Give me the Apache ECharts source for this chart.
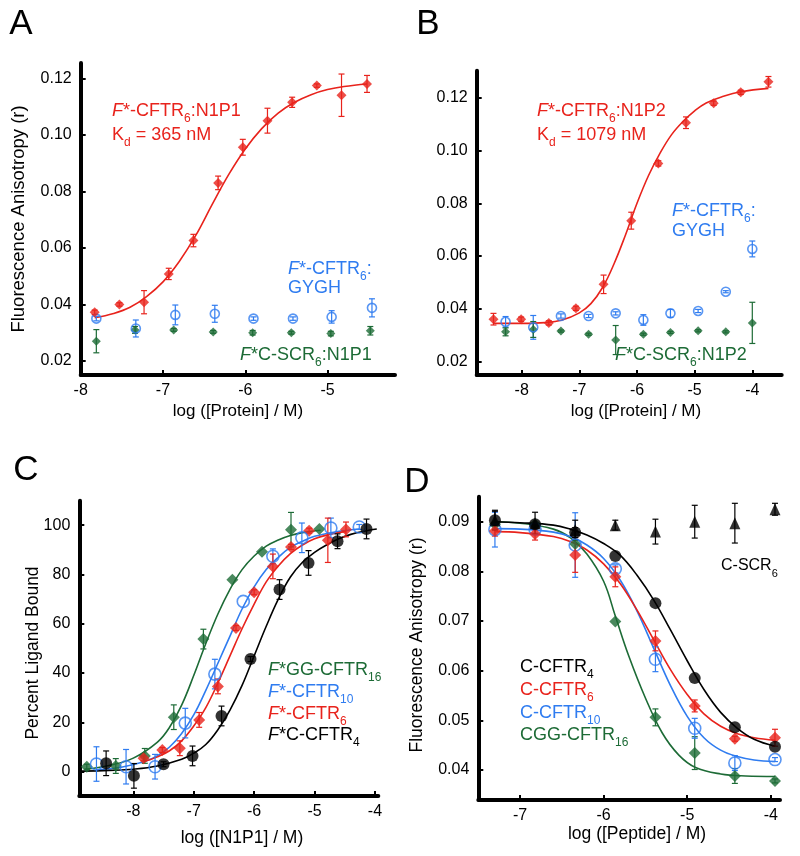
<!DOCTYPE html>
<html><head><meta charset="utf-8">
<script src="https://cdn.jsdelivr.net/npm/echarts@6/dist/echarts.min.js"></script>
<style>html,body{margin:0;padding:0;background:#fff}#c{width:800px;height:856px}</style>
</head><body><div id="c"></div>
<script>
// ---------- Panel A ----------
const aRedX = [-7.83,-7.53,-7.23,-6.93,-6.63,-6.33,-6.03,-5.73,-5.43,-5.13,-4.83,-4.52];
const aRedY = [0.0372,0.0400,0.0408,0.0508,0.0626,0.0830,0.0956,0.1050,0.1115,0.1174,0.1140,0.1180];
const aRedErr = [0.0008,0.0006,0.0041,0.0020,0.0022,0.0024,0.0028,0.0044,0.0018,0.0006,0.0075,0.0030];
const aBlueX = [-7.81,-7.33,-6.85,-6.37,-5.90,-5.42,-4.95,-4.46];
const aBlueY = [0.0350,0.0315,0.0363,0.0367,0.0350,0.0350,0.0356,0.0388];
const aBlueErr = [0.0008,0.0030,0.0035,0.0030,0.0006,0.0006,0.0022,0.0032];
const aGreenX = [-7.81,-7.34,-6.87,-6.39,-5.91,-5.44,-4.96,-4.48];
const aGreenY = [0.0270,0.0310,0.0310,0.0303,0.0300,0.0300,0.0297,0.0307];
const aGreenErr = [0.0041,0.0012,0.0005,0.0005,0.0008,0.0005,0.0008,0.0015];
const aFitX = [-7.83,-7.6,-7.4,-7.2,-7.0,-6.8,-6.6,-6.4,-6.2,-6.0,-5.8,-5.6,-5.4,-5.2,-5.0,-4.8,-4.52];
const aFitY = [0.0353,0.0368,0.0390,0.0428,0.0480,0.0553,0.0645,0.0755,0.0860,0.0950,0.1022,0.1077,0.1115,0.1142,0.1160,0.1171,0.1180];
const aXTicks = [-8,-7,-6,-5];
const aYTicks = [0.02,0.04,0.06,0.08,0.10,0.12];

// ---------- Panel B ----------
const bRedX = [-8.49,-8.01,-7.53,-7.06,-6.58,-6.10,-5.63,-5.15,-4.67,-4.20,-3.72];
const bRedY = [0.0361,0.0361,0.0347,0.0402,0.0493,0.0734,0.0951,0.1105,0.1179,0.1220,0.1260];
const bRedErr = [0.0022,0.0008,0.0008,0.0008,0.0035,0.0032,0.0010,0.0022,0.0008,0.0008,0.0020];
const bBlueX = [-8.28,-7.80,-7.32,-6.84,-6.37,-5.89,-5.42,-4.94,-4.46,-4.00];
const bBlueY = [0.0351,0.0330,0.0373,0.0373,0.0383,0.0358,0.0383,0.0392,0.0465,0.0627];
const bBlueErr = [0.0020,0.0045,0.0008,0.0006,0.0006,0.0020,0.0015,0.0006,0.0004,0.0030];
const bGreenX = [-8.28,-7.80,-7.32,-6.84,-6.37,-5.89,-5.42,-4.94,-4.46,-4.00];
const bGreenY = [0.0313,0.0322,0.0316,0.0304,0.0282,0.0304,0.0311,0.0317,0.0313,0.0347];
const bGreenErr = [0.0015,0.0030,0.0004,0.0004,0.0055,0.0004,0.0004,0.0004,0.0004,0.0078];
const bFitX = [-8.48,-8.0,-7.6,-7.3,-7.0,-6.8,-6.6,-6.4,-6.2,-6.0,-5.8,-5.6,-5.4,-5.2,-5.0,-4.8,-4.5,-4.2,-3.72];
const bFitY = [0.0345,0.0345,0.0348,0.0358,0.0385,0.0420,0.0480,0.0570,0.0680,0.0800,0.0905,0.0990,0.1060,0.1110,0.1150,0.1180,0.1205,0.1222,0.1235];
const bXTicks = [-8,-7,-6,-5,-4];
const bYTicks = [0.02,0.04,0.06,0.08,0.10,0.12];

// ---------- Panel C ----------
const cGreenX = [-8.77,-8.29,-7.81,-7.33,-6.84,-6.36,-5.87,-5.39,-4.92];
const cGreenY = [2.0,2.3,6.4,22.1,53.8,77.9,89.2,98.2,98.5];
const cGreenErr = [1,3,3,5,4,0,0,7,0];
const cBlueX = [-8.61,-8.12,-7.64,-7.14,-6.65,-6.18,-5.69,-5.21,-4.73,-4.26];
const cBlueY = [3.1,2.0,2.0,19.7,39.6,69.1,87.4,94.9,98.9,99.3];
const cBlueErr = [7,7,5,6,6,0,3,6,4,1];
const cRedX = [-7.83,-7.52,-7.23,-6.91,-6.60,-6.30,-6.00,-5.69,-5.39,-5.09,-4.78,-4.48];
const cRedY = [5.4,8.8,9.5,21.0,34.6,58.3,72.8,83.3,91.2,97.8,93.9,98.3];
const cRedErr = [1,1,3,3,3,1,1,5,1,1,9,3];
const cBlackX = [-8.45,-7.99,-7.50,-7.02,-6.54,-6.06,-5.58,-5.10,-4.62,-4.14];
const cBlackY = [3.4,-1.7,3.0,6.4,22.6,45.7,73.9,84.7,93.5,98.5];
const cBlackErr = [5,5,1,4,4,1,4,5,3,4];
const cGreenFitX = [-8.8,-8.4,-8.0,-7.6,-7.4,-7.2,-7.0,-6.8,-6.6,-6.4,-6.2,-6.0,-5.8,-5.6,-5.4,-5.2,-4.9];
const cGreenFitY = [1.0,2.5,5.5,12,18,27,39,52,64,74,82,87.5,91.5,94,95.8,97,98];
const cBlueFitX = [-8.6,-8.2,-7.8,-7.6,-7.4,-7.2,-7.0,-6.8,-6.6,-6.4,-6.2,-6.0,-5.8,-5.6,-5.4,-5.2,-5.0,-4.6,-4.26];
const cBlueFitY = [0.8,1.8,4.2,6.5,10,15.5,23,33,44,55,66,75,82,87,91,93.5,95.5,97.5,98.5];
const cRedFitX = [-7.83,-7.6,-7.4,-7.2,-7.0,-6.8,-6.6,-6.4,-6.2,-6.0,-5.8,-5.6,-5.4,-5.2,-5.0,-4.8,-4.48];
const cRedFitY = [4.0,6.0,8.5,12.5,18.5,26,36,47,58,68,77,83.5,88.5,92,94.5,96,97.5];
const cBlackFitX = [-8.85,-8.4,-8.0,-7.6,-7.2,-7.0,-6.8,-6.6,-6.4,-6.2,-6.0,-5.8,-5.6,-5.4,-5.2,-5.0,-4.8,-4.6,-4.4,-4.14,-3.97];
const cBlackFitY = [0.2,0.5,1.0,2.3,5.0,7.5,11,17,25,35,47,59,70,79,85,89,92,94.5,96.3,97.8,98.5];
const cXTicks = [-8,-7,-6,-5,-4];
const cYTicks = [0,20,40,60,80,100];

// ---------- Panel D ----------
const dX = [-7.30,-6.82,-6.34,-5.86,-5.38,-4.91,-4.43,-3.95];
const dTriY = [0.0903,0.0897,0.0883,0.0893,0.0880,0.0900,0.0897,0.0925];
const dTriErr = [0.0018,0.0022,0.0020,0.0010,0.0025,0.0033,0.0040,0.0012];
const dBlackY = [0.0903,0.0895,0.0878,0.0831,0.0736,0.0585,0.0486,0.0447];
const dBlackErr = [0.0020,0,0.0010,0,0,0,0,0];
const dRedY = [0.0881,0.0875,0.0833,0.0789,0.0660,0.0529,0.0463,0.0465];
const dRedErr = [0.0010,0.0012,0.0035,0.0020,0.0020,0.0012,0.0005,0.0017];
const dBlueY = [0.0884,0.0885,0.0853,0.0805,0.0623,0.0484,0.0414,0.0421];
const dBlueErr = [0.0035,0.0008,0.0065,0.0008,0.0025,0.0020,0.0015,0.0004];
const dGreenY = [0.0895,0.0895,0.0855,0.0699,0.0506,0.0434,0.0388,0.0378];
const dGreenErr = [0,0,0,0,0.0017,0.0033,0.0015,0.0004];
const dBlackFitX = [-7.3,-7.0,-6.6,-6.4,-6.2,-6.0,-5.8,-5.6,-5.4,-5.2,-5.0,-4.8,-4.6,-4.4,-4.2,-3.95];
const dBlackFitY = [0.0900,0.0898,0.0893,0.0885,0.0873,0.0856,0.0832,0.0792,0.0742,0.0682,0.0620,0.0562,0.0516,0.0484,0.0462,0.0448];
const dRedFitX = [-7.3,-7.0,-6.6,-6.4,-6.2,-6.0,-5.8,-5.6,-5.4,-5.2,-5.0,-4.8,-4.6,-4.4,-4.2,-3.95];
const dRedFitY = [0.0880,0.0878,0.0870,0.0860,0.0843,0.0815,0.0775,0.0722,0.0662,0.0602,0.0552,0.0513,0.0488,0.0473,0.0465,0.0460];
const dBlueFitX = [-7.3,-7.0,-6.6,-6.4,-6.2,-6.0,-5.8,-5.6,-5.4,-5.2,-5.0,-4.8,-4.6,-4.4,-4.2,-3.95];
const dBlueFitY = [0.0886,0.0885,0.0879,0.0870,0.0853,0.0826,0.0782,0.0720,0.0645,0.0570,0.0508,0.0465,0.0440,0.0427,0.0420,0.0417];
const dGreenFitX = [-7.3,-7.0,-6.6,-6.4,-6.2,-6.0,-5.86,-5.7,-5.5,-5.3,-5.1,-4.9,-4.6,-4.3,-3.95];
const dGreenFitY = [0.0900,0.0897,0.0885,0.0868,0.0835,0.0780,0.0710,0.0630,0.0545,0.0475,0.0430,0.0405,0.0392,0.0388,0.0387];
const dXTicks = [-7,-6,-5,-4];
const dYTicks = [0.04,0.05,0.06,0.07,0.08,0.09];

// ---------- styling ----------
const RED = '#e8231c', BLUE = '#2f7cf0', GREEN = '#1d6b36', BLACK = '#000000';
const FONT = "'Liberation Sans', Arial, sans-serif";

const zip = (xs, ys) => xs.map((x, i) => [x, ys[i]]);
const errs = (xs, ys, es) => xs.map((x, i) => [x, ys[i] - es[i], ys[i] + es[i], es[i]]);

function errRender(params, api) {
  if (api.value(3) <= 0) return null;
  const x = api.value(0);
  const p1 = api.coord([x, api.value(1)]);
  const p2 = api.coord([x, api.value(2)]);
  const w = 3;
  const style = { stroke: api.visual('color'), lineWidth: 1.2 };
  return { type: 'group', children: [
    { type: 'line', shape: { x1: p1[0], y1: p1[1], x2: p2[0], y2: p2[1] }, style },
    { type: 'line', shape: { x1: p1[0] - w, y1: p1[1], x2: p1[0] + w, y2: p1[1] }, style },
    { type: 'line', shape: { x1: p2[0] - w, y1: p2[1], x2: p2[0] + w, y2: p2[1] }, style }
  ]};
}

function xAxisDef(gi, min, max, ticks) {
  return {
    type: 'value', gridIndex: gi, min, max,
    axisLine: { show: true, onZero: false, lineStyle: { color: BLACK, width: 4 } },
    axisTick: { show: true, inside: true, length: 5, lineStyle: { width: 2, color: BLACK }, customValues: ticks },
    axisLabel: { show: true, customValues: ticks, color: BLACK, fontSize: 16, fontFamily: FONT, margin: 8,
                 formatter: v => String(Math.round(v)) },
    splitLine: { show: false }
  };
}
function yAxisDef(gi, min, max, ticks, dec) {
  return {
    type: 'value', gridIndex: gi, min, max,
    axisLine: { show: true, onZero: false, lineStyle: { color: BLACK, width: 4 } },
    axisTick: { show: true, inside: true, length: 5, lineStyle: { width: 2, color: BLACK }, customValues: ticks },
    axisLabel: { show: true, customValues: ticks, color: BLACK, fontSize: 16, fontFamily: FONT, margin: 9,
                 formatter: v => v.toFixed(dec) },
    splitLine: { show: false }
  };
}

const series = [];
function addCurve(gi, xs, ys, color) {
  series.push({ type: 'line', xAxisIndex: gi, yAxisIndex: gi, data: zip(xs, ys), showSymbol: false,
    smooth: 0.4, lineStyle: { color, width: 1.6 }, z: 2, silent: true });
}
function addErr(gi, xs, ys, es, color) {
  series.push({ type: 'custom', xAxisIndex: gi, yAxisIndex: gi, data: errs(xs, ys, es),
    renderItem: errRender, encode: { x: 0, y: [1, 2] }, itemStyle: { color }, z: 3, silent: true });
}
function addPts(gi, xs, ys, color, symbol, size, open) {
  series.push({ type: 'scatter', xAxisIndex: gi, yAxisIndex: gi, data: zip(xs, ys), symbol, symbolSize: size,
    itemStyle: open ? { color: 'rgba(255,255,255,0)', borderColor: color, borderWidth: 1.6 } : { color },
    z: 4, silent: true });
}

// Panel A (grid 0)
addCurve(0, aFitX, aFitY, RED);
addErr(0, aRedX, aRedY, aRedErr, RED);
addErr(0, aBlueX, aBlueY, aBlueErr, BLUE);
addErr(0, aGreenX, aGreenY, aGreenErr, GREEN);
addPts(0, aGreenX, aGreenY, GREEN, 'diamond', 9);
addPts(0, aBlueX, aBlueY, BLUE, 'circle', 9, true);
addPts(0, aRedX, aRedY, RED, 'diamond', 10);

// Panel B (grid 1)
addCurve(1, bFitX, bFitY, RED);
addErr(1, bRedX, bRedY, bRedErr, RED);
addErr(1, bBlueX, bBlueY, bBlueErr, BLUE);
addErr(1, bGreenX, bGreenY, bGreenErr, GREEN);
addPts(1, bGreenX, bGreenY, GREEN, 'diamond', 9);
addPts(1, bBlueX, bBlueY, BLUE, 'circle', 9, true);
addPts(1, bRedX, bRedY, RED, 'diamond', 10);

// Panel C (grid 2)
addCurve(2, cGreenFitX, cGreenFitY, GREEN);
addCurve(2, cBlueFitX, cBlueFitY, BLUE);
addCurve(2, cRedFitX, cRedFitY, RED);
addCurve(2, cBlackFitX, cBlackFitY, BLACK);
addErr(2, cGreenX, cGreenY, cGreenErr, GREEN);
addErr(2, cBlueX, cBlueY, cBlueErr, BLUE);
addErr(2, cRedX, cRedY, cRedErr, RED);
addErr(2, cBlackX, cBlackY, cBlackErr, BLACK);
addPts(2, cGreenX, cGreenY, GREEN, 'diamond', 12);
addPts(2, cRedX, cRedY, RED, 'diamond', 12);
addPts(2, cBlueX, cBlueY, BLUE, 'circle', 12, true);
addPts(2, cBlackX, cBlackY, BLACK, 'circle', 12);

// Panel D (grid 3)
addCurve(3, dGreenFitX, dGreenFitY, GREEN);
addCurve(3, dBlueFitX, dBlueFitY, BLUE);
addCurve(3, dRedFitX, dRedFitY, RED);
addCurve(3, dBlackFitX, dBlackFitY, BLACK);
addErr(3, dX, dGreenY, dGreenErr, GREEN);
addErr(3, dX, dBlueY, dBlueErr, BLUE);
addErr(3, dX, dRedY, dRedErr, RED);
addErr(3, dX, dBlackY, dBlackErr, BLACK);
addErr(3, dX, dTriY, dTriErr, BLACK);
addPts(3, dX, dGreenY, GREEN, 'diamond', 12);
addPts(3, dX, dBlueY, BLUE, 'circle', 12, true);
addPts(3, dX, dRedY, RED, 'diamond', 12);
addPts(3, dX, dBlackY, BLACK, 'circle', 12);
addPts(3, dX, dTriY, BLACK, 'triangle', [11, 12]);

// ---------- text ----------
function rich(color, size) {
  const sub = Math.round(size * 0.67);
  return {
    n: { fontSize: size, fontFamily: FONT, fill: color, color, lineHeight: size + 6, verticalAlign: 'top' },
    i: { fontSize: size, fontFamily: FONT, fill: color, color, fontStyle: 'italic', lineHeight: size + 6, verticalAlign: 'top' },
    s: { fontSize: sub, fontFamily: FONT, fill: color, color, lineHeight: sub, verticalAlign: 'top', padding: [Math.round(size * 0.62), 0, 0, 0] }
  };
}
function txt(x, y, text, color, size) {
  const s = size || 18;
  return { type: 'text', x, y, silent: true, z: 10,
    style: { text, rich: rich(color, s), fill: color, align: 'left', verticalAlign: 'middle', font: s + 'px ' + FONT } };
}
function plain(x, y, text, size, rot) {
  return { type: 'text', x, y, rotation: rot || 0, silent: true, z: 10,
    style: { text, fill: BLACK, fontSize: size, fontFamily: FONT, align: 'center', verticalAlign: 'middle' } };
}

const graphics = [
  plain(21, 24, 'A', 35), plain(428, 24, 'B', 35), plain(26, 470, 'C', 35), plain(417, 482, 'D', 35),
  plain(19, 219, 'Fluorescence Anisotropy (r)', 18.5, Math.PI / 2),
  plain(238, 411, 'log ([Protein] / M)', 17),
  plain(636, 411, 'log ([Protein] / M)', 17),
  plain(33, 653, 'Percent Ligand Bound', 17.5, Math.PI / 2),
  plain(242, 838, 'log ([N1P1] / M)', 17.5),
  plain(417, 645, 'Fluorescence Anisotropy (r)', 17.5, Math.PI / 2),
  plain(637, 834, 'log ([Peptide] / M)', 17.5),
  // Panel A
  txt(112, 114, '{i|F}{n|*-CFTR}{s|6}{n|:N1P1}', RED),
  txt(112, 138, '{n|K}{s|d}{n| = 365 nM}', RED),
  txt(288, 272, '{i|F}{n|*-CFTR}{s|6}{n|:}', BLUE),
  txt(288, 291, '{n|GYGH}', BLUE),
  txt(240, 358, '{i|F}{n|*C-SCR}{s|6}{n|:N1P1}', GREEN),
  // Panel B
  txt(537, 114, '{i|F}{n|*-CFTR}{s|6}{n|:N1P2}', RED),
  txt(537, 138, '{n|K}{s|d}{n| = 1079 nM}', RED),
  txt(672, 214, '{i|F}{n|*-CFTR}{s|6}{n|:}', BLUE),
  txt(672, 234, '{n|GYGH}', BLUE),
  txt(615, 358, '{i|F}{n|*C-SCR}{s|6}{n|:N1P2}', GREEN),
  // Panel C legend
  txt(268, 673, '{i|F}{n|*GG-CFTR}{s|16}', GREEN),
  txt(268, 695, '{i|F}{n|*-CFTR}{s|10}', BLUE),
  txt(268, 717, '{i|F}{n|*-CFTR}{s|6}', RED),
  txt(268, 738, '{i|F}{n|*C-CFTR}{s|4}', BLACK),
  // Panel D
  txt(721, 569, '{n|C-SCR}{s|6}', BLACK, 16),
  txt(520, 670, '{n|C-CFTR}{s|4}', BLACK),
  txt(520, 693, '{n|C-CFTR}{s|6}', RED),
  txt(520, 716, '{n|C-CFTR}{s|10}', BLUE),
  txt(520, 738, '{n|CGG-CFTR}{s|16}', GREEN)
];

const option = {
  animation: false,
  backgroundColor: '#fff',
  textStyle: { fontFamily: FONT },
  grid: [
    { left: 80.7, top: 63.0, width: 314.3, height: 312.0 },
    { left: 476.7, top: 70.7, width: 305.0, height: 304.3 },
    { left: 79.3, top: 500.7, width: 299.0, height: 295.3 },
    { left: 478.3, top: 496.7, width: 301.7, height: 303.3 }
  ],
  xAxis: [
    xAxisDef(0, -8, -4.18, aXTicks),
    xAxisDef(1, -8.781, -3.49, bXTicks),
    xAxisDef(2, -8.894, -3.945, cXTicks),
    xAxisDef(3, -7.499, -3.89, dXTicks)
  ],
  yAxis: [
    yAxisDef(0, 0.01505, 0.1254, aYTicks, 2),
    yAxisDef(1, 0.01496, 0.1302, bYTicks, 2),
    yAxisDef(2, -9.88, 109.96, cYTicks, 0),
    yAxisDef(3, 0.03396, 0.09503, dYTicks, 2)
  ],
  series,
  graphic: graphics
};

const chart = echarts.init(document.getElementById('c'), null, { renderer: 'canvas' });
chart.setOption(option);
</script>
</body></html>
